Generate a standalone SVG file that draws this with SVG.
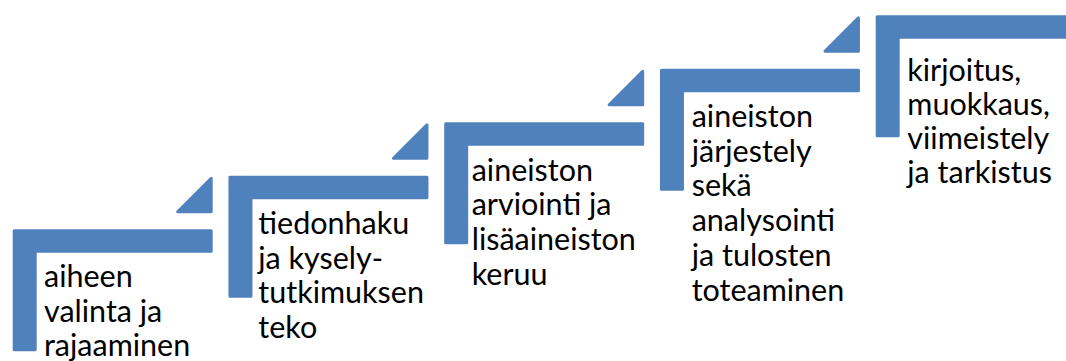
<svg xmlns="http://www.w3.org/2000/svg" width="1066" height="361" viewBox="0 0 1066 361">
<style>
.step{fill:#4F81BD;stroke:#4F81BD;stroke-width:3;stroke-linejoin:round}
.lbl{font-family:Lato,"Open Sans","Liberation Sans",sans-serif;font-size:30.5px;fill:#000}
</style>
<defs>
<path id="ell" d="M1.5,1.5 H198.5 V22 H22.5 V120.5 H1.5 Z"/>
<path id="tri" d="M165,-17.5 L198.5,-51 V-17.5 Z"/>
</defs>
<rect width="1066" height="361" fill="#fff"/>
<g id="connectors">
<use href="#tri" class="step" transform="translate(12.7,229.3)"/>
<use href="#tri" class="step" transform="translate(228.45,175.8)"/>
<use href="#tri" class="step" transform="translate(444.2,122.3)"/>
<use href="#tri" class="step" transform="translate(659.95,68.8)"/>
</g>
<g id="step1">
<use href="#ell" class="step" transform="translate(12.7,229.3)"/>
<text class="lbl" x="44" y="287.3"><tspan x="44">aiheen</tspan><tspan x="44" dy="34.3">valinta ja</tspan><tspan x="44" dy="34.3">rajaaminen</tspan></text>
</g>
<g id="step2">
<use href="#ell" class="step" transform="translate(228.45,175.8)"/>
<text class="lbl" x="258.3" y="234"><tspan x="258.3">tiedonhaku</tspan><tspan x="258.3" dy="34.6">ja kysely-</tspan><tspan x="258.3" dy="34.6">tutkimuksen</tspan><tspan x="258.3" dy="34.6">teko</tspan></text>
</g>
<g id="step3">
<use href="#ell" class="step" transform="translate(444.2,122.3)"/>
<text class="lbl" x="471.7" y="180.7"><tspan x="471.7">aineiston</tspan><tspan x="471.7" dy="34.6">arviointi ja</tspan><tspan x="471.7" dy="34.6">lisäaineiston</tspan><tspan x="471.7" dy="34.6">keruu</tspan></text>
</g>
<g id="step4">
<use href="#ell" class="step" transform="translate(659.95,68.8)"/>
<text class="lbl" x="691.7" y="126.7"><tspan x="691.7">aineiston</tspan><tspan x="691.7" dy="34.8">järjestely</tspan><tspan x="691.7" dy="34.8">sekä</tspan><tspan x="691.7" dy="34.8">analysointi</tspan><tspan x="691.7" dy="34.8">ja tulosten</tspan><tspan x="691.7" dy="34.8">toteaminen</tspan></text>
</g>
<g id="step5">
<use href="#ell" class="step" transform="translate(875.7,15.3)"/>
<text class="lbl" x="907.3" y="80.5"><tspan x="907.3">kirjoitus,</tspan><tspan x="907.3" dy="34.3">muokkaus,</tspan><tspan x="907.3" dy="34.3">viimeistely</tspan><tspan x="907.3" dy="34.3">ja tarkistus</tspan></text>
</g>
</svg>
